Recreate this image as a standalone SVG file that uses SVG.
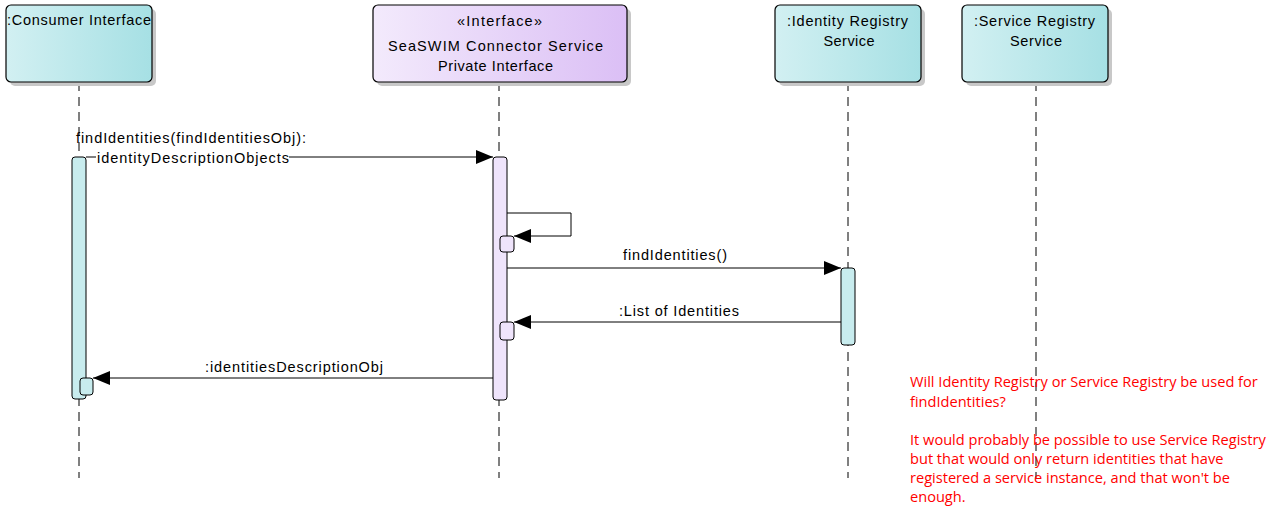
<svg xmlns="http://www.w3.org/2000/svg" width="1269" height="508" viewBox="0 0 1269 508">
<style>
.lbl{font-family:"Liberation Sans",Arial,sans-serif;font-size:14.5px;fill:#000}
.mid{text-anchor:middle}
.box{stroke:#000;stroke-width:1.2}
.shadow{fill:#c8c8c8}
.life{stroke:#000;stroke-width:1;stroke-dasharray:9,6;fill:none}
.msg{stroke:#000;stroke-width:1;fill:none}
.actc{fill:#c8ecee;stroke:#000;stroke-width:1}
.actp{fill:#efe4fb;stroke:#000;stroke-width:1}
.note{font-family:"Open Sans","Noto Sans",sans-serif;font-size:14.6px;fill:#ff0000}
</style>
<defs>
<linearGradient id="gc" x1="0" y1="0" x2="1" y2="0">
<stop offset="0" stop-color="#d2f0f2"/><stop offset="1" stop-color="#a6e0e4"/>
</linearGradient>
<linearGradient id="gp" x1="0" y1="0" x2="1" y2="0">
<stop offset="0" stop-color="#f3eafc"/><stop offset="1" stop-color="#dbbff5"/>
</linearGradient>
<marker id="ah" markerWidth="18" markerHeight="14" refX="17" refY="7" orient="auto" markerUnits="userSpaceOnUse">
<path d="M0,0 L17,7 L0,14 Z" fill="#000"/>
</marker>
</defs>

<g id="lifelines">
<line class="life" x1="79" y1="82" x2="79" y2="478"/>
<line class="life" x1="499" y1="82" x2="499" y2="478"/>
<line class="life" x1="848" y1="82" x2="848" y2="478"/>
<line class="life" x1="1036" y1="82" x2="1036" y2="478"/>
</g>

<g id="consumer">
<rect class="shadow" x="10" y="9" width="146" height="77" rx="5"/>
<rect class="box" x="6" y="5" width="146" height="77" rx="5" fill="url(#gc)"/>
<text class="lbl" x="7" y="25" textLength="144" lengthAdjust="spacing">:Consumer Interface</text>
</g>

<g id="interface">
<rect class="shadow" x="377" y="9" width="254" height="77" rx="5"/>
<rect class="box" x="373" y="5" width="254" height="77" rx="5" fill="url(#gp)"/>
<text class="lbl mid" x="499.5" y="25.5" textLength="85" lengthAdjust="spacing">«Interface»</text>
<text class="lbl mid" x="495.5" y="50.5" textLength="215" lengthAdjust="spacing">SeaSWIM Connector Service</text>
<text class="lbl mid" x="495.5" y="70.5" textLength="115" lengthAdjust="spacing">Private Interface</text>
</g>

<g id="identity">
<rect class="shadow" x="779" y="9" width="146" height="77" rx="5"/>
<rect class="box" x="775" y="5" width="146" height="77" rx="5" fill="url(#gc)"/>
<text class="lbl mid" x="847.5" y="25.5" textLength="121" lengthAdjust="spacing">:Identity Registry</text>
<text class="lbl mid" x="849" y="46" textLength="51" lengthAdjust="spacing">Service</text>
</g>

<g id="serviceRegistry">
<rect class="shadow" x="966" y="9" width="146" height="77" rx="5"/>
<rect class="box" x="962" y="5" width="146" height="77" rx="5" fill="url(#gc)"/>
<text class="lbl mid" x="1034.5" y="25.5" textLength="121" lengthAdjust="spacing">:Service Registry</text>
<text class="lbl mid" x="1036" y="46" textLength="52" lengthAdjust="spacing">Service</text>
</g>

<g id="activations">
<rect class="actc" x="72" y="157" width="14" height="242" rx="3"/>
<rect class="actp" x="493" y="157" width="14" height="243" rx="3"/>
<rect class="actc" x="841" y="268" width="14" height="77" rx="3"/>
<rect class="actp" x="500" y="236" width="14" height="16" rx="3"/>
<rect class="actp" x="500" y="322" width="14" height="18" rx="3"/>
<rect class="actc" x="80" y="378" width="13" height="17" rx="3"/>
</g>

<g id="connectors">
<line class="msg" x1="86" y1="157" x2="493" y2="157" marker-end="url(#ah)"/>
<rect x="96" y="149" width="193" height="17" fill="#fff"/>
<text class="lbl" x="76" y="143" textLength="230" lengthAdjust="spacing">findIdentities(findIdentitiesObj):</text>
<text class="lbl" x="97" y="163" textLength="192" lengthAdjust="spacing">identityDescriptionObjects</text>
<path class="msg" d="M507,213 H571 V236 H514" marker-end="url(#ah)"/>
<line class="msg" x1="507" y1="268" x2="841" y2="268" marker-end="url(#ah)"/>
<text class="lbl mid" x="675" y="260" textLength="104" lengthAdjust="spacing">findIdentities()</text>
<line class="msg" x1="841" y1="322" x2="514" y2="322" marker-end="url(#ah)"/>
<text class="lbl mid" x="679" y="316" textLength="120" lengthAdjust="spacing">:List of Identities</text>
<line class="msg" x1="493" y1="378" x2="93" y2="378" marker-end="url(#ah)"/>
<text class="lbl mid" x="294" y="372" textLength="178" lengthAdjust="spacing">:identitiesDescriptionObj</text>
</g>

<g id="note">
<text class="note" x="910" y="387">Will Identity Registry or Service Registry be used for</text>
<text class="note" x="910" y="407">findIdentities?</text>
<text class="note" x="910" y="445">It would probably be possible to use Service Registry</text>
<text class="note" x="910" y="464">but that would only return identities that have</text>
<text class="note" x="910" y="483">registered a service instance, and that won't be</text>
<text class="note" x="910" y="502">enough.</text>
</g>
</svg>
